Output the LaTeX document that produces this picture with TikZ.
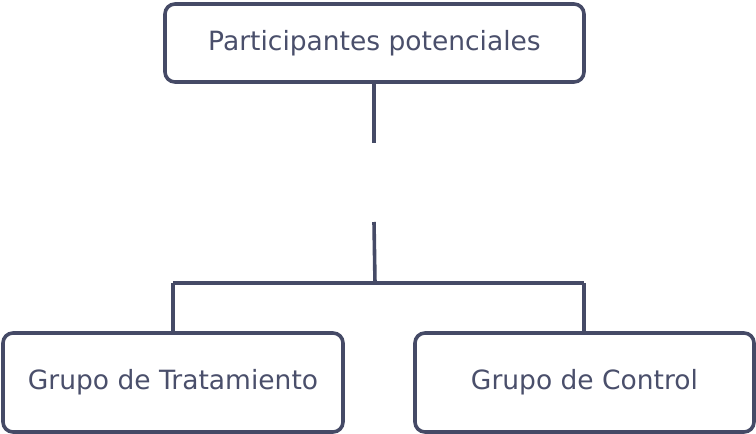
\documentclass[tikz,border=0pt]{standalone}
\usepackage{fontspec}
\setmainfont{DejaVu Sans}
\definecolor{ink}{HTML}{454A66}
\definecolor{txt}{HTML}{4A4F6B}
\begin{document}
\begin{tikzpicture}[x=1pt,y=-1pt,
  box/.style={draw=ink,line width=3.6pt,rounded corners=10pt,fill=white,text=txt,font=\fontsize{26.5}{30}\selectfont,inner sep=0pt},
  link/.style={draw=ink,line width=3.6pt}]
\useasboundingbox (0,0) rectangle (756,434);
\node[box,minimum width=419pt,minimum height=78pt] (top) at (374.5,43) {Participantes potenciales};
\node[box,minimum width=340pt,minimum height=99pt] (left) at (173,382.5) {Grupo de Tratamiento};
\node[box,minimum width=339pt,minimum height=99pt] (right) at (584.5,382.5) {Grupo de Control};
\coordinate (g1) at (374,143);
\coordinate (g2) at (374,222);
\coordinate (j) at (375,283);
\coordinate (jl) at (173,283);
\coordinate (jr) at (584,283);
\draw[link] (top.south -| g1) -- (g1);
\draw[link] (g2) -- (j);
\draw[link] (jl) -- (jr);
\draw[link] (jl) -- (left.north -| jl);
\draw[link] (jr) -- (right.north -| jr);
\end{tikzpicture}
\end{document}
